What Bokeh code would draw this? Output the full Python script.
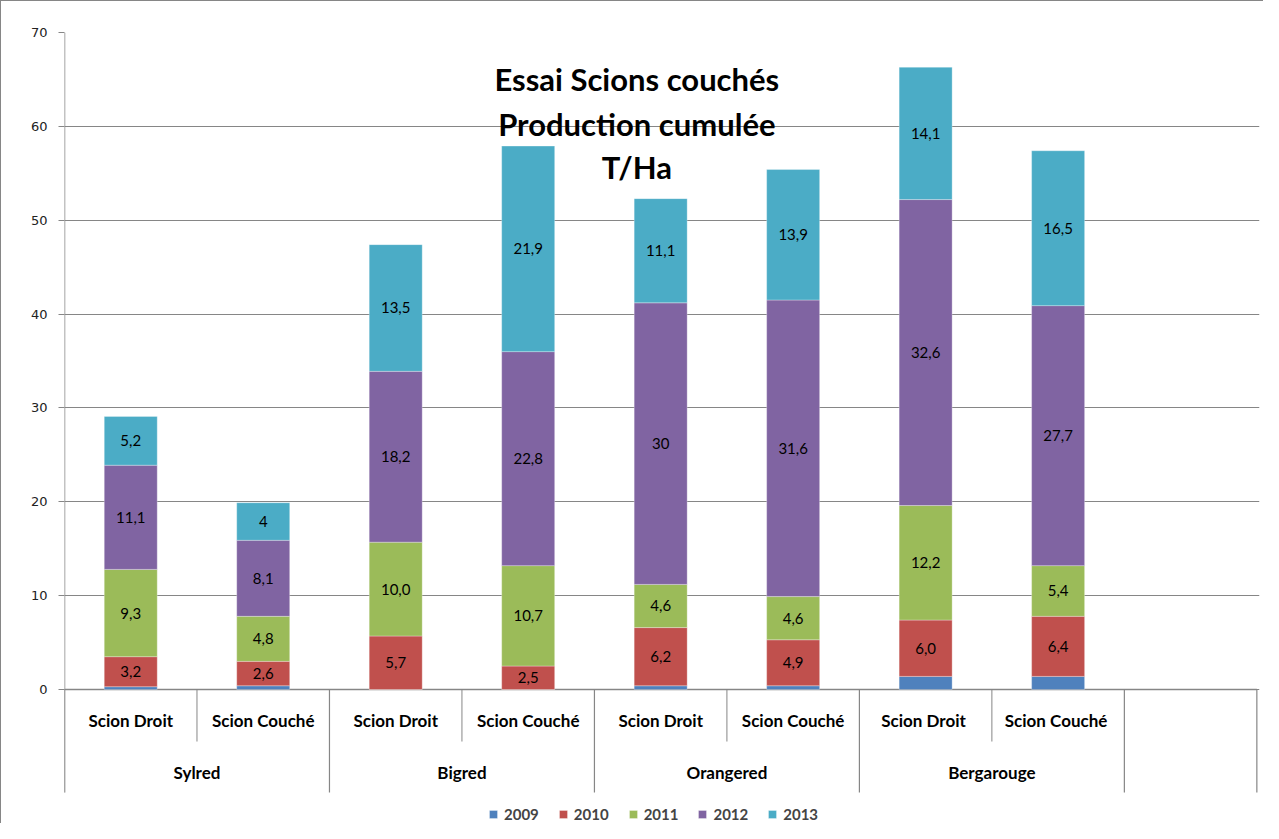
from bokeh.plotting import figure
from bokeh.models import (ColumnDataSource, Range1d, FixedTicker,
                          Legend, LegendItem, Label)
from bokeh.embed import file_html
from bokeh.resources import INLINE
from bokeh.core.properties import value

# ---------------- data ----------------
varieties = ["Sylred", "Bigred", "Orangered", "Bergarouge"]
types = ["Scion Droit", "Scion Couché", "Scion Droit", "Scion Couché",
         "Scion Droit", "Scion Couché", "Scion  Droit", "Scion  Couché"]
years = ["2009", "2010", "2011", "2012", "2013"]

v2009 = [0.3, 0.4, 0.0, 0.0, 0.4, 0.4, 1.4, 1.4]
v2010 = [3.2, 2.6, 5.7, 2.5, 6.2, 4.9, 6.0, 6.4]
v2011 = [9.3, 4.8, 10.0, 10.7, 4.6, 4.6, 12.2, 5.4]
v2012 = [11.1, 8.1, 18.2, 22.8, 30.0, 31.6, 32.6, 27.7]
v2013 = [5.2, 4.0, 13.5, 21.9, 11.1, 13.9, 14.1, 16.5]

lab2010 = ["3,2", "2,6", "5,7", "2,5", "6,2", "4,9", "6,0", "6,4"]
lab2011 = ["9,3", "4,8", "10,0", "10,7", "4,6", "4,6", "12,2", "5,4"]
lab2012 = ["11,1", "8,1", "18,2", "22,8", "30", "31,6", "32,6", "27,7"]
lab2013 = ["5,2", "4", "13,5", "21,9", "11,1", "13,9", "14,1", "16,5"]

title_lines = ["Essai Scions couchés", "Production cumulée", "T/Ha"]
y_ticks = [0, 10, 20, 30, 40, 50, 60, 70]

colors = ["#4F81BD", "#C0504D", "#9BBB59", "#8064A2", "#4BACC6"]
GRAY = "#868686"
n_groups = len(varieties)
n_slots = len(types) + 1          # one empty slot at the right

# vertical layout of the category area (data units below zero)
Y_SUB_LABEL = -3.30
Y_SUB_LINE = -5.54
Y_GRP_LABEL = -8.84
Y_GRP_LINE = -10.97

# ---------------- build ----------------
xs = [i + 0.5 for i in range(len(types))]
series = [v2009, v2010, v2011, v2012, v2013]
src = ColumnDataSource(dict(x=xs, **{y: s for y, s in zip(years, series)}))

p = figure(width=1263, height=823, x_range=Range1d(0, n_slots + 0.02), y_range=Range1d(-14.38, 70),
           output_backend="svg", toolbar_location=None, x_axis_location=None,
           min_border_left=63, min_border_right=5, min_border_top=31, min_border_bottom=0,
           styles={"border-top": "1px solid #868686", "border-left": "1px solid #868686"})
p.outline_line_color = None
p.xgrid.visible = False
p.ygrid.grid_line_color = GRAY
p.ygrid.ticker = FixedTicker(ticks=y_ticks)

# axis line at zero (under the bars)
p.segment(x0=[0], y0=[0], x1=[n_slots], y1=[0], line_color=GRAY, line_width=1.5)

renderers = p.vbar_stack(years, x="x", width=0.4, source=src, color=colors,
                         line_color="white", line_width=0.5, line_alpha=0.6)

# value labels
lx, ly, lt = [], [], []
base = list(v2009)
for vals, labs in zip([v2010, v2011, v2012, v2013], [lab2010, lab2011, lab2012, lab2013]):
    for i, (v, t) in enumerate(zip(vals, labs)):
        lx.append(xs[i]); ly.append(base[i] + v / 2); lt.append(t)
    base = [b + v for b, v in zip(base, vals)]
p.text(x="x", y="y", text="t", source=ColumnDataSource(dict(x=lx, y=ly, t=lt)),
       text_align="center", text_baseline="middle", text_font=value("Lato"),
       text_font_size="15px", text_color="black")

# category axis drawn below zero: separators
sub_bounds = [2 * g + 1 for g in range(n_groups)]
grp_bounds = [2 * g for g in range(n_groups + 1)] + [n_slots]
p.segment(x0=sub_bounds, y0=[0] * len(sub_bounds), x1=sub_bounds, y1=[Y_SUB_LINE] * len(sub_bounds),
          line_color=GRAY, line_width=1)
p.segment(x0=grp_bounds, y0=[0] * len(grp_bounds), x1=grp_bounds, y1=[Y_GRP_LINE] * len(grp_bounds),
          line_color=GRAY, line_width=1.2)
# y axis line (extends down through the category area)
p.segment(x0=[0], y0=[Y_GRP_LINE], x1=[0], y1=[max(y_ticks)], line_color=GRAY, line_width=1.5)

# category labels
p.text(x=xs, y=[Y_SUB_LABEL] * len(xs), text=types, text_align="center", text_baseline="middle",
       text_font=value("Lato"), text_font_style="bold", text_font_size="17px", text_color="black")
grp_x = [2 * g + 1 for g in range(n_groups)]
p.text(x=grp_x, y=[Y_GRP_LABEL] * n_groups, text=varieties, text_align="center",
       text_baseline="middle", text_font=value("Lato"), text_font_style="bold",
       text_font_size="17px", text_color="black")

# title
for line, yy in zip(title_lines, [65.0, 60.3, 55.7]):
    p.add_layout(Label(x=4.32, y=yy, text=line, text_align="center", text_baseline="middle",
                       text_font="Lato", text_font_style="bold", text_font_size="31px",
                       text_color="black"))

# y axis
ya = p.yaxis[0]
ya.ticker = FixedTicker(ticks=y_ticks)
ya.axis_line_color = None
ya.major_tick_line_color = GRAY
ya.major_tick_out = 6
ya.major_tick_in = 0
ya.minor_tick_line_color = None
ya.major_label_text_font = "DejaVu Sans"
ya.major_label_text_font_size = "13px"
ya.major_label_text_color = "#222222"
ya.major_label_standoff = 11

legend = Legend(items=[LegendItem(label=y, renderers=[r]) for y, r in zip(years, renderers)],
                orientation="horizontal", location=(424, 1),
                glyph_width=10, glyph_height=10, label_height=16, label_standoff=6, spacing=19,
                padding=0, margin=0, border_line_color=None, background_fill_alpha=0,
                label_text_font="Lato", label_text_font_style="bold", label_text_font_size="15px")
p.add_layout(legend, "center")

open("out.html", "w").write(file_html(p, INLINE))
